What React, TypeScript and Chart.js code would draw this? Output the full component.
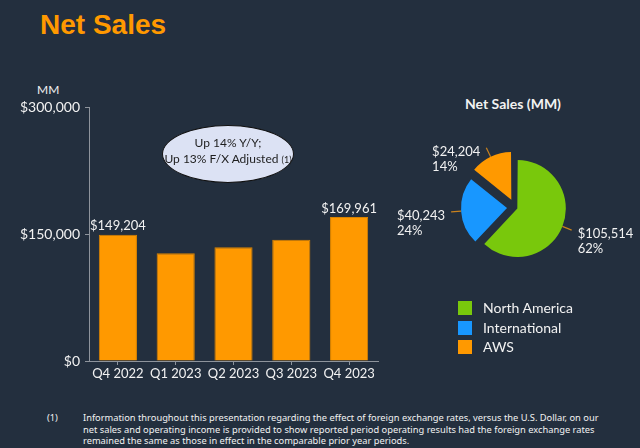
import React, { useEffect, useRef } from "react";
import { Chart, registerables } from "chart.js";

Chart.register(...registerables);

// ---- data ----
const quarters = ["Q4 2022", "Q1 2023", "Q2 2023", "Q3 2023", "Q4 2023"];
const netSales = [149204, 127358, 134383, 143083, 169961];
const labeledQuarters = ["Q4 2022", "Q4 2023"];
const yTickValues = [0, 150000, 300000];

const segments = ["North America", "International", "AWS"];
const segmentSales = [105514, 40243, 24204];

const footnoteLines = [
  "Information throughout this presentation regarding the effect of foreign exchange rates, versus the U.S. Dollar, on our",
  "net sales and operating income is provided to show reported period operating results had the foreign exchange rates",
  "remained the same as those in effect in the comparable prior year periods.",
];

// ---- styles ----
const BG = "#232f3e";
const ORANGE = "#ff9900";
const segmentColors = ["#79c80c", "#1897ff", "#ff9900"];
const segmentOffsets = [10, 32, 34];
const AXIS = "#8e949c";
const FONT = "Lato, 'Noto Sans', sans-serif";

const fmt = (v: number) => "$" + v.toLocaleString("en-US");

const barLabelPlugin = {
  id: "barLabels",
  afterDatasetsDraw(chart: any) {
    const ctx = chart.ctx;
    const meta = chart.getDatasetMeta(0);
    ctx.save();
    ctx.fillStyle = "#f2f2f2";
    ctx.font = `13px ${FONT}`;
    ctx.textAlign = "center";
    ctx.textBaseline = "bottom";
    meta.data.forEach((bar: any, i: number) => {
      if (!labeledQuarters.includes(quarters[i])) return;
      ctx.fillText(fmt(netSales[i]), bar.x, bar.y - 2);
    });
    ctx.restore();
  },
};

const pieLabelPlugin = {
  id: "pieLabels",
  afterDatasetsDraw(chart: any) {
    const ctx = chart.ctx;
    const meta = chart.getDatasetMeta(0);
    const total = segmentSales.reduce((a, b) => a + b, 0);
    ctx.save();
    meta.data.forEach((arc: any, i: number) => {
      const p = arc.getProps(["x", "y", "startAngle", "endAngle", "outerRadius", "circumference"], true);
      const off = (arc.options.offset || 0) / 4;
      const fix = 1 - Math.sin(Math.min(Math.PI, p.circumference));
      const mid = (p.startAngle + p.endAngle) / 2;
      const r0 = p.outerRadius + off + off * fix;
      const c = Math.cos(mid);
      const s = Math.sin(mid);
      const x0 = p.x + c * r0;
      const y0 = p.y + s * r0;
      const x1 = p.x + c * (r0 + 10);
      const y1 = p.y + s * (r0 + 10);
      ctx.strokeStyle = "#c9821e";
      ctx.lineWidth = 1.2;
      ctx.beginPath();
      ctx.moveTo(x0, y0);
      ctx.lineTo(x1, y1);
      ctx.stroke();
      const right = c >= 0;
      const line1 = fmt(segmentSales[i]);
      const line2 = Math.round((segmentSales[i] / total) * 100) + "%";
      ctx.font = `13px ${FONT}`;
      ctx.fillStyle = "#f2f2f2";
      ctx.textBaseline = "middle";
      ctx.textAlign = "left";
      const w = ctx.measureText(line1).width;
      const tx = right ? x1 + 6 : x1 - 6 - w;
      const ty = y1 + 4;
      ctx.fillText(line1, tx, ty);
      ctx.fillText(line2, tx, ty + 15);
    });
    ctx.restore();
  },
};

export default function App() {
  const barRef = useRef<HTMLCanvasElement>(null);
  const pieRef = useRef<HTMLCanvasElement>(null);

  useEffect(() => {
    document.body.style.margin = "0";
    const bar = new Chart(barRef.current!, {
      type: "bar",
      data: {
        labels: quarters,
        datasets: [
          {
            data: netSales,
            backgroundColor: ORANGE,
            borderColor: "#d98300",
            borderWidth: 1,
            categoryPercentage: 1,
            barPercentage: 0.66,
          },
        ],
      },
      options: {
        animation: false,
        responsive: false,
        events: [],
        layout: { padding: { top: 107, right: 22, left: 0, bottom: 0 } },
        plugins: { legend: { display: false }, tooltip: { enabled: false } },
        scales: {
          x: {
            grid: { offset: false, drawOnChartArea: false, drawTicks: true, tickLength: 4, color: AXIS },
            border: { display: true, color: AXIS, width: 1 },
            ticks: { color: "#f2f2f2", font: { family: FONT, size: 13 }, padding: 1 },
            afterFit: (s: any) => {
              s.height = 39;
            },
          },
          y: {
            min: 0,
            max: 300000,
            afterBuildTicks: (s: any) => {
              s.ticks = yTickValues.map((v) => ({ value: v }));
            },
            grid: { drawOnChartArea: false, drawTicks: true, tickLength: 4, color: AXIS },
            border: { display: true, color: AXIS, width: 1 },
            ticks: {
              color: "#f2f2f2",
              font: { family: FONT, size: 14 },
              padding: 5,
              callback: (v: any) => fmt(Number(v)),
            },
            afterFit: (s: any) => {
              s.width = 89;
            },
          },
        },
      },
      plugins: [barLabelPlugin],
    } as any);

    const pie = new Chart(pieRef.current!, {
      type: "pie",
      data: {
        labels: segments,
        datasets: [
          {
            data: segmentSales,
            backgroundColor: segmentColors,
            borderWidth: 0,
            offset: segmentOffsets,
            hoverOffset: 0,
          },
        ],
      },
      options: {
        animation: false,
        responsive: false,
        events: [],
        radius: 46,
        layout: { padding: { left: 60, right: 60, top: 25, bottom: 10 } },
        plugins: { legend: { display: false }, tooltip: { enabled: false } },
      },
      plugins: [pieLabelPlugin],
    } as any);

    return () => {
      bar.destroy();
      pie.destroy();
    };
  }, []);

  return (
    <div
      style={{
        position: "absolute",
        left: 0,
        top: 0,
        width: 640,
        height: 448,
        background: BG,
        overflow: "hidden",
        fontFamily: FONT,
        color: "#f2f2f2",
      }}
    >
      <div
        style={{
          position: "absolute",
          left: 40,
          top: 11,
          fontFamily: "'Liberation Sans', Arial, sans-serif",
          fontWeight: "bold",
          fontSize: 28,
          lineHeight: "28px",
          color: ORANGE,
        }}
      >
        Net Sales
      </div>
      <div style={{ position: "absolute", left: 37, top: 83, fontSize: 12, lineHeight: "14px" }}>MM</div>
      <canvas ref={barRef} width={400} height={400} style={{ position: "absolute", left: 0, top: 0 }} />
      <div
        style={{
          position: "absolute",
          left: 162,
          top: 125,
          width: 132,
          height: 58,
          borderRadius: "50%",
          background: "#dce2f4",
          border: "1px solid #111",
          color: "#1e1e1e",
          fontSize: 12,
          lineHeight: "16px",
          display: "flex",
          flexDirection: "column",
          alignItems: "center",
          justifyContent: "center",
          paddingBottom: 6,
          boxSizing: "border-box",
          textAlign: "center",
          whiteSpace: "nowrap",
        }}
      >
        <div>Up 14% Y/Y;</div>
        <div>
          Up 13% F/X Adjusted <span style={{ fontSize: 9 }}>(1)</span>
        </div>
      </div>
      <div
        style={{
          position: "absolute",
          left: 413,
          width: 200,
          top: 96,
          textAlign: "center",
          fontWeight: "bold",
          fontSize: 14,
          lineHeight: "16px",
        }}
      >
        Net Sales (MM)
      </div>
      <canvas ref={pieRef} width={250} height={180} style={{ position: "absolute", left: 390, top: 110 }} />
      {segments.map((name, i) => (
        <div key={name} style={{ position: "absolute", left: 458, top: 301 + i * 19.5, height: 14, display: "flex", alignItems: "center" }}>
          <div style={{ width: 14, height: 14, background: segmentColors[i] }} />
          <div style={{ marginLeft: 11, fontSize: 14, lineHeight: "14px" }}>{name}</div>
        </div>
      ))}
      <div style={{ position: "absolute", left: 47, top: 412, fontSize: 9.3, lineHeight: "11.5px", fontFamily: "'Noto Sans', sans-serif" }}>(1)</div>
      <div
        style={{
          position: "absolute",
          left: 83,
          top: 412,
          fontSize: 9.3,
          lineHeight: "11.5px",
          whiteSpace: "nowrap",
          fontFamily: "'Noto Sans', sans-serif",
        }}
      >
        {footnoteLines.map((l) => (
          <div key={l}>{l}</div>
        ))}
      </div>
    </div>
  );
}
